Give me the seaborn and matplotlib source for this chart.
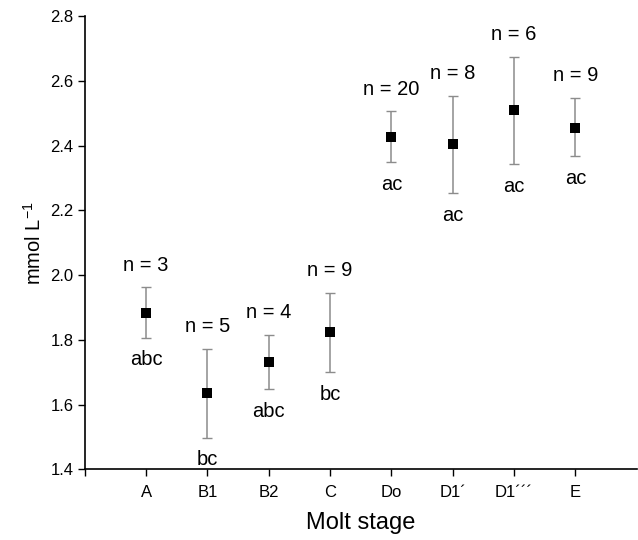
import numpy as np
import pandas as pd
import matplotlib
matplotlib.use("Agg")
import matplotlib.pyplot as plt
import seaborn as sns

# data
stages = ["A", "B1", "B2", "C", "Do", "D1\u00b4", "D1\u00b4\u00b4\u00b4", "E"]
means = [1.884, 1.636, 1.731, 1.823, 2.427, 2.404, 2.510, 2.456]
upper = [1.962, 1.771, 1.815, 1.946, 2.506, 2.553, 2.674, 2.547]
lower = [1.807, 1.498, 1.647, 1.699, 2.348, 2.254, 2.342, 2.367]
n_labels = ["n = 3", "n = 5", "n = 4", "n = 9", "n = 20", "n = 8", "n = 6", "n = 9"]
group_labels = ["abc", "bc", "abc", "bc", "ac", "ac", "ac", "ac"]
yticks = [1.4, 1.6, 1.8, 2.0, 2.2, 2.4, 2.6, 2.8]

sns.set_style("ticks")
plt.rcParams['font.family'] = ['Liberation Sans', 'DejaVu Sans']
plt.rcParams['text.color'] = 'black'
plt.rcParams['axes.labelcolor'] = 'black'
plt.rcParams['xtick.color'] = 'black'
plt.rcParams['ytick.color'] = 'black'

df = pd.DataFrame({"stage": stages, "mean": means, "upper": upper, "lower": lower})
xpos = np.arange(len(stages))

fig = plt.figure(figsize=(6.38, 5.40), dpi=100)
ax = fig.add_axes([0.133, 0.131, 0.865, 0.839])

# error bars
yerr = [df["mean"] - df["lower"], df["upper"] - df["mean"]]
ax.errorbar(xpos, df["mean"], yerr=yerr, fmt="none", ecolor="#8c8c8c",
            elinewidth=1.1, capsize=3.5, capthick=1.0, zorder=2)

sns.scatterplot(x=xpos, y=df["mean"], marker="s", color="black", s=45,
                edgecolor="black", linewidth=0, ax=ax, zorder=3)

for i in range(len(stages)):
    ax.annotate(n_labels[i], (xpos[i], upper[i]), xytext=(0, 16),
                textcoords="offset points", ha="center", va="center", fontsize=14.5)
    ax.annotate(group_labels[i], (xpos[i], lower[i]), xytext=(0, -16),
                textcoords="offset points", ha="center", va="center", fontsize=14.5)

ax.set_xlim(-1, 8)
ax.set_ylim(1.4, 2.8)
ax.set_yticks(yticks)
ax.set_yticklabels([f"{v:.1f}" for v in yticks], fontsize=12)
ax.set_xticks(list(range(-1, len(stages))))
ax.set_xticklabels([""] + stages, fontsize=12)
ax.tick_params(axis="both", direction="out", length=5, width=1, color="black")
ax.tick_params(axis="x", pad=6)
ax.tick_params(axis="y", pad=3)
ax.set_xlabel("Molt stage", fontsize=17, labelpad=9)
ax.set_ylabel("mmol L$^{\\mathregular{-1}}$", fontsize=14.5, labelpad=4)

sns.despine(ax=ax)
for sp in ["left", "bottom"]:
    ax.spines[sp].set_linewidth(1.2)
    ax.spines[sp].set_color("black")

fig.savefig("out.png", dpi=100)
